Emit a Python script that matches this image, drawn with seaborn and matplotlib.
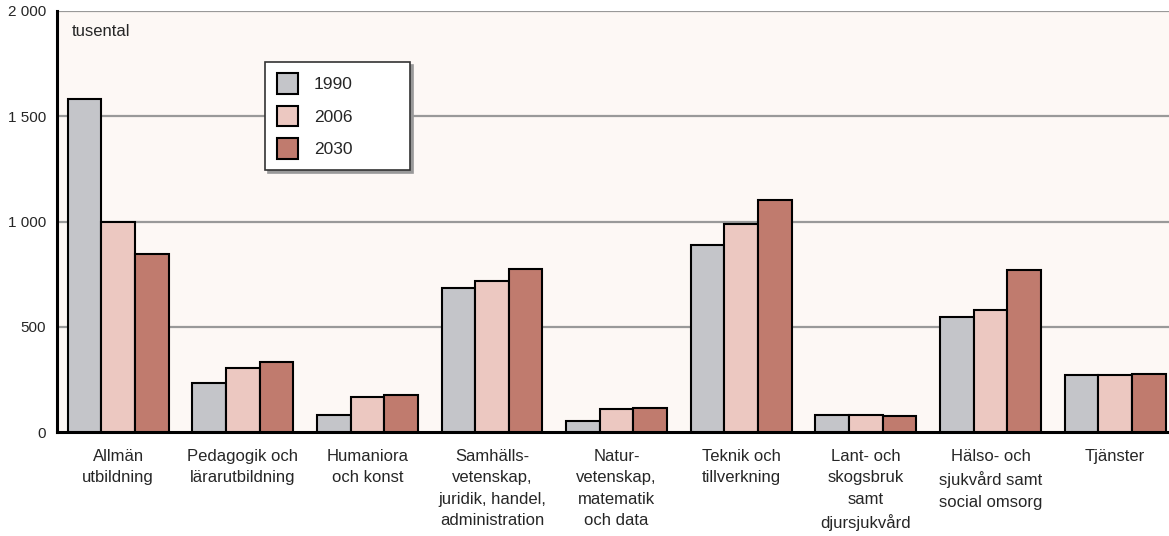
import matplotlib
matplotlib.use("Agg")
import matplotlib.pyplot as plt
import seaborn as sns
import pandas as pd

categories = ["Allmän\nutbildning", "Pedagogik och\nlärarutbildning", "Humaniora\noch konst",
              "Samhälls-\nvetenskap,\njuridik, handel,\nadministration",
              "Natur-\nvetenskap,\nmatematik\noch data", "Teknik och\ntillverkning",
              "Lant- och\nskogsbruk\nsamt\ndjursjukvård",
              "Hälso- och\nsjukvård samt\nsocial omsorg", "Tjänster"]
years = ["1990", "2006", "2030"]
v1990 = [1580, 233, 81, 684, 52, 888, 81, 546, 271]
v2006 = [1000, 304, 166, 717, 109, 988, 81, 580, 271]
v2030 = [845, 333, 176, 774, 114, 1102, 76, 770, 276]
colors = ["#c4c5c9", "#ecc8c1", "#c07b6e"]
yticks = [0, 500, 1000, 1500, 2000]
ytick_labels = ["0", "500", "1 000", "1 500", "2 000"]

rows = []
for yr, vals in zip(years, [v1990, v2006, v2030]):
    for c, v in zip(categories, vals):
        rows.append({"cat": c, "year": yr, "value": v})
df = pd.DataFrame(rows)

sns.set_style("white")
plt.rcParams['font.family'] = ['Liberation Sans', 'DejaVu Sans']

fig = plt.figure(figsize=(11.69, 5.36), dpi=100)
ax = fig.add_axes([57/1169, 1 - 432/536, 1 - 57/1169 + 0.002, (432 - 11)/536])
ax.set_facecolor("#fdf8f5")

sns.barplot(data=df, x="cat", y="value", hue="year", palette=colors, width=0.81,
            edgecolor="black", linewidth=1.5, ax=ax, saturation=1, zorder=3)

ax.set_ylim(0, 2000)
ax.set_xlim(-0.49, 8.45)
ax.set_yticks(yticks)
ax.set_yticklabels(ytick_labels, fontsize=11)
for y in yticks[1:]:
    ax.axhline(y, color="#999999", lw=1.6, zorder=1)
ax.tick_params(axis="both", length=0, pad=8)
ax.tick_params(axis="x", pad=12, labelsize=12)
for lbl in ax.get_xticklabels():
    lbl.set_linespacing(1.55)
ax.set_xlabel("")
ax.set_ylabel("")
for s in ["top", "right"]:
    ax.spines[s].set_visible(False)
ax.spines["left"].set_linewidth(2.2)
ax.spines["left"].set_color("black")
ax.spines["bottom"].set_linewidth(2.2)
ax.spines["bottom"].set_color("black")

ax.text(0.013, 0.968, "tusental", transform=ax.transAxes, fontsize=12, va="top", ha="left")

leg = ax.legend(loc="upper left", bbox_to_anchor=(0.187, 0.879 - 0.252, 0.130, 0.252),
                mode="expand", fontsize=12.5,
                frameon=True, fancybox=False, shadow={"color": "#999999", "alpha": 1},
                handlelength=1.25, handleheight=1.45, labelspacing=0.68,
                borderpad=0.65, handletextpad=0.9, borderaxespad=0)
leg.get_frame().set_edgecolor("#333333")
leg.get_frame().set_linewidth(1.2)
leg.get_frame().set_facecolor("white")
leg.set_title(None)

fig.savefig("out.png", dpi=100, facecolor="white")
